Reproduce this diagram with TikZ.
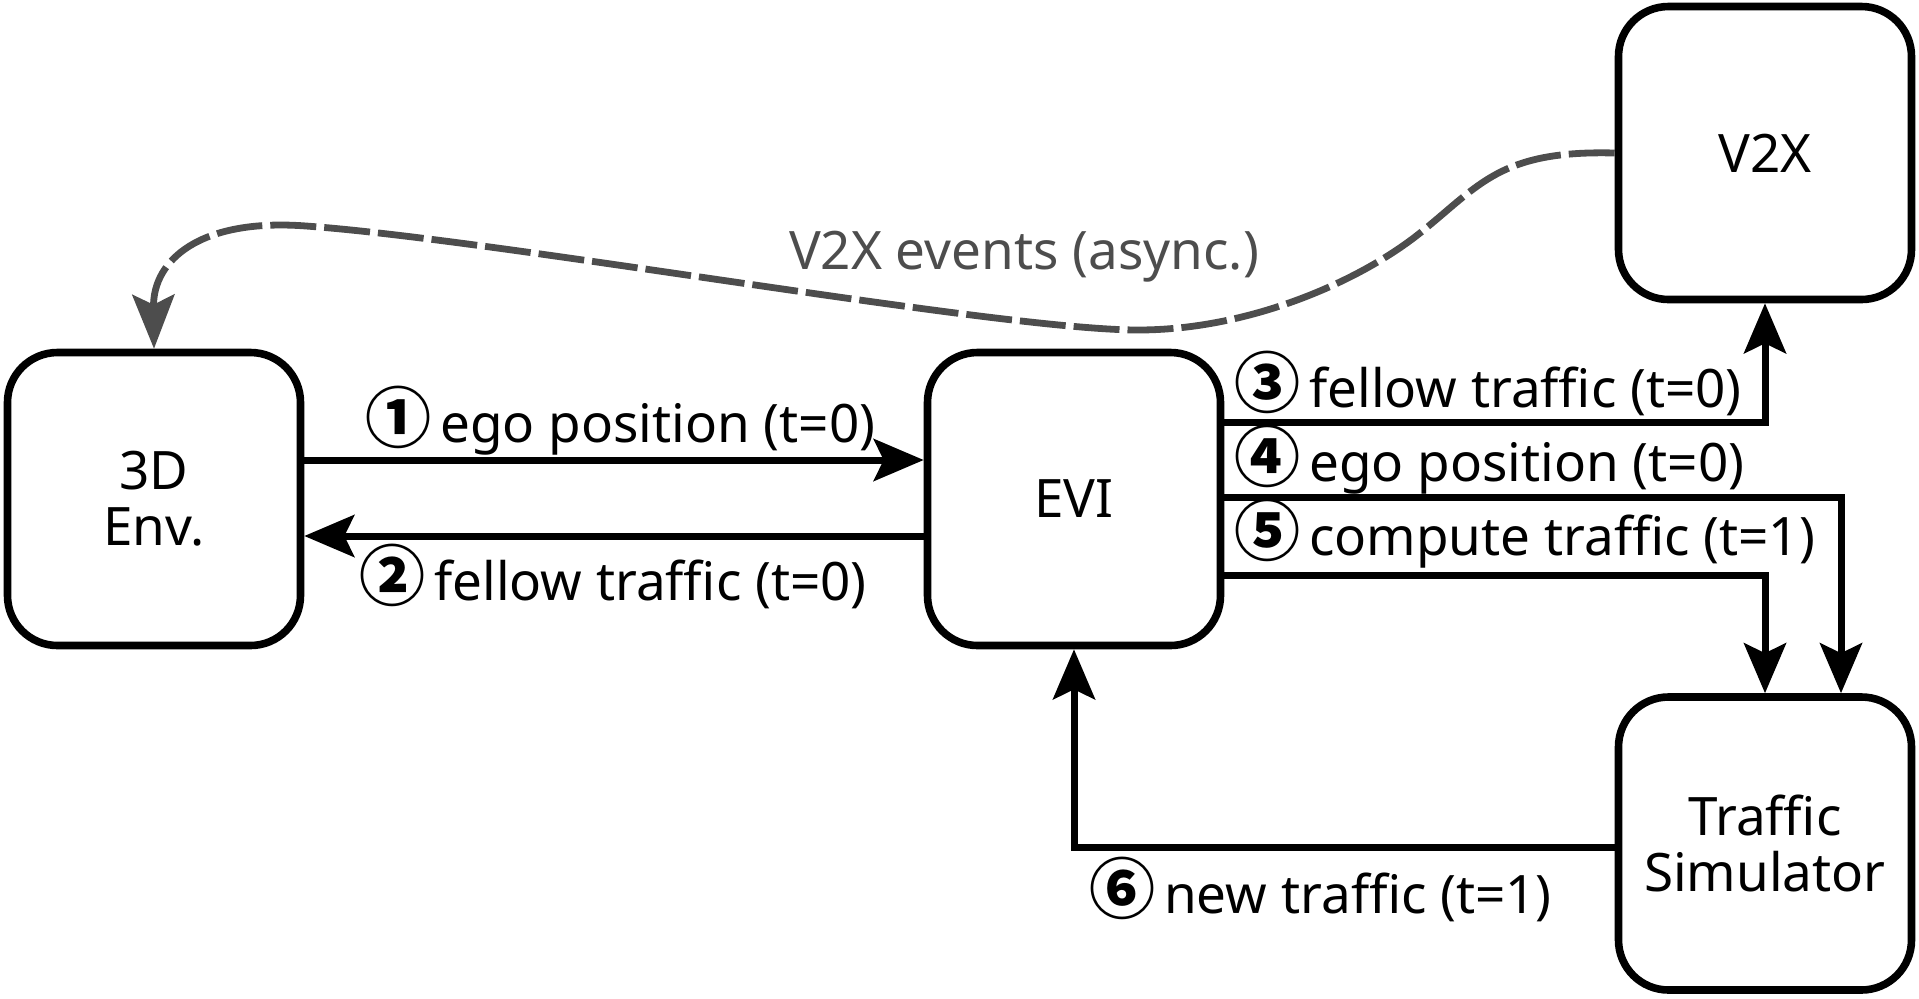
\documentclass[tikz,border=0pt]{standalone}
\usepackage{fontspec}
\setmainfont{Noto Sans}
\newfontfamily\cjk{Noto Sans CJK JP}
\usetikzlibrary{arrows.meta}
\definecolor{dgray}{RGB}{77,77,77}
\newcommand{\fs}{\fontsize{26.5}{28}\selectfont}
\newcommand{\cnum}[1]{{\cjk\bfseries\fontsize{33}{33}\selectfont #1}}
\begin{document}
\begin{tikzpicture}[x=0.5pt,y=-0.5pt,
  box/.style={draw, line width=3.8pt, rounded corners=25pt, minimum width=146.5pt,
    minimum height=146.5pt, inner sep=0pt, align=center, font=\fs},
  arr/.style={line width=3.5pt, -{Stealth[length=25pt,width=21pt,inset=5pt]}},
  lbl/.style={anchor=west, inner sep=0pt, font=\fs},
  dasharr/.style={dgray, line width=3.4pt, dash pattern=on 23pt off 4pt,
    -{Stealth[length=27pt,width=21pt,inset=5pt]}},
]
\useasboundingbox (0,0) rectangle (1919,998);

\node[box] (env) at (154,499) {3D\\Env.};
\node[box] (evi) at (1074,499) {EVI};
\node[box] (v2x) at (1765,153) {V2X};
\node[box] (ts) at (1765,843.5) {Traffic\\Simulator};

% arrows
\draw[arr] ([yshift=19.5pt]env.east) -- ([yshift=19.5pt]evi.west);
\draw[arr] ([yshift=-18.5pt]evi.west) -- ([yshift=-18.5pt]env.east);
\draw[arr] ([yshift=38.5pt]evi.east) -| (v2x.south);
\draw[arr] ([yshift=1pt]evi.east) -| ([xshift=38pt]ts.north);
\draw[arr] ([yshift=-38pt]evi.east) -| (ts.north);
\draw[arr] ([yshift=-2pt]ts.west) -| (evi.south);

% labels
\node[lbl] (l1) at (365,421) {\cnum{①}\,ego position (t=0)};
\node[lbl] (l2) at (359,576) {\cnum{②}\,fellow traffic (t=0)};
\node[lbl] (l3) at (1234,383) {\cnum{③}\,fellow traffic (t=0)};
\node[lbl] (l4) at (1234,460) {\cnum{④}\,ego position (t=0)};
\node[lbl] (l5) at (1234,534) {\cnum{⑤}\,compute traffic (t=1)};
\node[lbl] (l6) at (1089,889) {\cnum{⑥}\,new traffic (t=1)};

% dashed V2X events
\draw[dasharr] (v2x.west) .. controls (1500,150) and (1480,185) .. (1420,233)
  .. controls (1360,281) and (1250,330) .. (1138,330)
  .. controls (1000,330) and (500,240) .. (306,226)
  .. controls (200,218) and (153,260) .. (env.north);
\node[font=\fs, text=dgray, inner sep=0pt] (ev) at (1024,257) {V2X events (async.)};
\end{tikzpicture}
\end{document}
